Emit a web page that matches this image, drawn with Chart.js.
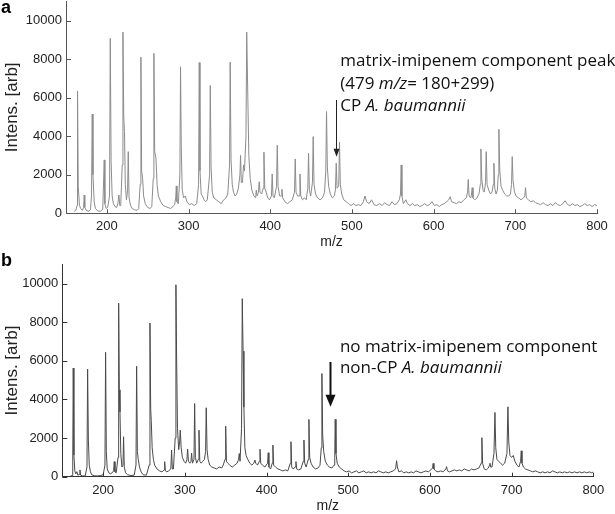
<!DOCTYPE html>
<html><head><meta charset="utf-8">
<script src="https://cdn.jsdelivr.net/npm/chart.js@4"></script>
<style>
html,body{margin:0;padding:0;background:#fff;}
#wrap{position:relative;width:615px;height:514px;overflow:hidden;background:#fff;}
canvas{position:absolute;left:0;}
</style></head><body>
<div id="wrap">
<canvas id="ca" width="615" height="267" style="top:-11px"></canvas>
<canvas id="cb" width="615" height="266" style="top:250px"></canvas>
</div>
<script>
// ---- data ----
const xTickLabels = [200, 300, 400, 500, 600, 700, 800];
const yTickLabels = [0, 2000, 4000, 6000, 8000, 10000];

// panel a: CP A. baumannii (m/z, intensity)
const mzA = [160,162,163.5,164.1,165,166.5,168,170,171.5,172.3,173,175,178,180,181.2,182.1,183,184.5,186,189,192,195,196.8,197.6,199,201,203.3,204.2,205.2,206.5,208,210,212,213.5,214.8,215.8,217,218.8,219.7,220.7,221.6,222.6,224,225.4,226.2,227.2,229,231,234,237,239,240.8,241.7,242.6,243.8,245,247,250,253,255,256.8,257.6,258.6,260.1,261.5,263,266,269,272,275,278,281,283,284.3,285,285.8,287.5,289.4,290.2,291.1,292.3,294,296,298,301,304,307,310,312.3,313.1,314,315.5,317,319,321,323,325.8,326.6,327.6,329,331,334,337,340,343,346,348,350.2,351,352,353.5,355,357,359,361,362.9,363.7,364.6,366,367.3,368.5,370.3,371.2,372.4,373.8,375.5,377.5,380,382.2,382.9,384,385.6,386.5,387.5,389.5,391.4,392.3,393.3,395,397,399,401.5,402.4,403.4,405,407.7,408.6,409.6,411.5,413.5,414.3,415.3,418,421,424,427,429.7,430.6,431.6,433.5,435.5,436.4,437.4,439.5,442,444,446,446.9,447.9,449.5,451.7,452.6,453.6,455.5,458,461,464,466.5,468,468.9,469.9,471.5,473.5,476,478.5,479.8,480.8,481.8,483.8,484.8,485.8,487.5,490,493,496,499,502,505,508,511,514,516,518,521,524,527,530,534,537,540,543,546,549,552,555,558,559.5,560.3,561.2,563,566,568,571,574,577,580,583,586,589,592,595,598,601,604,607,610,613,616,618.5,620.3,622,625,628,631,634,637,640,641.6,642.4,643.4,645.5,646.4,647.2,648.2,650.5,653,655.5,657.2,657.9,658.9,660.5,662,663.6,664.4,665.4,667.5,669.5,671.5,673,673.8,674.8,676.5,678,679.2,679.9,680.9,682.5,684.5,687,689.5,692,694,695.4,696.2,697.2,699,701,704,707,710,711.7,712.5,713.5,716,719,722,725,728,731,734,737,740,743,746,749,752,755,758,761,764,767,770,773,776,779,782,785,788,791,794,797,800];
const intA = [100,150,400,6350,1400,400,250,150,300,950,300,150,100,200,900,5150,2000,600,250,120,100,200,2770,500,250,300,900,9080,2700,900,500,350,300,500,950,400,400,2500,9400,5000,4240,1500,700,1200,3200,800,400,250,180,150,250,1500,8100,2200,1800,900,500,300,250,350,1800,8300,3200,2870,1500,900,600,400,350,300,250,350,450,800,1420,600,500,2000,7600,3390,1200,800,900,600,450,500,400,500,1500,7820,2200,1000,900,700,600,700,2000,6630,2400,1100,800,700,600,500,700,800,1000,2500,7840,2800,1500,1100,900,1000,1300,2000,3000,1600,1600,2510,2200,4000,9400,6500,3000,1800,1200,900,800,1210,900,1100,1640,1100,1000,1300,3170,1300,1100,800,700,900,2040,900,800,1400,3530,1400,900,900,1250,800,600,500,600,700,1100,2820,1100,900,900,2040,900,700,800,700,1300,3110,1200,900,1600,3980,1500,1000,800,700,800,1100,2200,5280,2400,1400,1000,800,900,1200,2600,1300,1400,3690,1500,1000,700,600,500,400,500,400,450,400,600,900,600,500,700,450,400,500,400,550,450,400,600,450,500,700,1000,2510,900,500,700,500,400,500,400,450,350,400,500,400,450,600,400,450,350,450,500,600,700,860,600,550,500,600,550,700,800,1100,1760,900,800,1000,1330,800,700,800,1000,1500,3340,1800,1200,1100,1600,3200,1500,1200,1000,1100,1500,2600,1300,1000,1200,2000,4360,2300,1400,1200,1000,900,900,1000,1500,2940,1700,1100,900,800,700,800,900,1330,800,700,600,650,550,500,450,550,450,400,500,400,550,450,400,500,650,450,400,500,400,450,350,400,500,400,450,350,450,400];

// panel b: non-CP A. baumannii (m/z, intensity)
const mzB = [160,162,162.8,163.4,164.2,165.3,166.5,167.9,169,171,171.6,172.4,175,178,180.2,181,181.9,183,184.5,186,189,193,197,200,202.2,203,203.9,205,207,209,211,212.8,213.6,214.5,216,218.2,219,219.8,220.6,221.6,223,224.3,225,225.9,227.5,230,234,238,240.2,241,241.9,243,244.5,246.5,249,253,256.3,257.3,258.2,258.9,260,261.5,263,266,269,272,274.5,275.3,276.2,278,280,282.8,283.8,284.7,286,288.2,289.1,289.9,291,292.5,293.6,294.4,295.5,297,299,301,302.6,303.4,304.4,306,307.5,308.3,309.3,311.2,312,312.9,314.5,316.5,317.3,318.3,320,322,324,325.4,326.2,327.2,328.5,330.5,333,336,339,342,345,347,349.2,350,350.9,352.5,355,358,361,364,365.8,366.6,367.6,369.4,370.3,371.3,372.3,373.5,375,377,379.5,382,384.5,385.8,386.8,389,391.2,392,392.9,395,398,401.3,402.1,402.9,405,407,407.8,408.7,411,414,417,420,423,426,429.1,429.9,430.8,432.5,435.2,436,436.9,439,442,445,445.8,446.7,448.5,451.1,451.9,452.8,454.5,457,460,463,465.5,467,467.8,468.7,470,472,474.5,477,480,482.6,483.5,484.1,485,486.5,489,492,495,498,501,504,507,510,513,516,519,522,525,528,531,534,537,540,543,546,549,552,555,558,559.2,560.2,562,565,568,571,574,577,580,583,586,589,592,595,598,601,603.2,604,604.9,607,610,613,616,619.5,620.4,621.5,624,627,630,633,636,639,642,645,648,651,654,657,660,662.8,663.6,664.5,666.5,669,671.5,673,673.5,674.4,676,678.4,679.6,680.6,682,684,686.5,689,691.5,694.3,695.5,696.5,698,700,702,704,706.5,709,711,711.8,712.7,714.5,717,720,723,726,729,732,735,738,741,744,747,750,753,756,759,762,765,768,771,774,777,780,783,786,789,792,795,798,800];
const intB = [30,60,800,5630,1120,300,150,260,80,120,350,80,40,40,500,5570,1900,600,250,100,50,40,60,100,600,6440,1300,400,200,150,200,300,780,250,200,1000,8990,4500,3360,1200,500,600,2070,500,200,100,60,80,600,5720,1300,900,500,250,100,80,600,7960,3500,2900,1500,900,600,400,300,250,350,780,300,250,300,400,1380,400,400,2000,9940,6300,2500,1400,1800,2410,1500,1000,800,700,900,1430,800,700,800,1220,700,900,3790,1000,700,900,2410,800,700,800,900,1300,3570,1400,900,600,500,450,400,500,450,600,900,2620,800,700,600,500,600,700,900,1200,800,2500,9220,6500,3600,1500,1100,900,700,600,700,860,700,600,800,1420,700,600,500,700,1240,500,400,700,1640,600,500,400,350,300,350,300,700,1810,500,400,500,780,400,350,400,800,1900,700,500,900,2970,1000,700,500,400,450,600,1500,5340,2200,1300,800,600,500,450,600,1000,2970,1200,700,500,400,300,250,300,200,250,300,200,250,300,200,250,200,250,200,300,250,200,250,200,250,300,400,830,500,250,300,200,250,200,250,200,300,250,200,250,300,250,350,450,690,400,300,250,300,250,400,520,300,250,300,350,300,350,300,400,350,300,400,350,400,450,700,2020,700,400,350,450,600,700,500,500,1200,3330,1500,900,800,700,600,700,1200,3620,1800,1100,1000,1100,800,600,500,800,1340,700,500,400,350,300,250,300,250,200,250,200,250,200,300,250,200,250,200,250,200,250,200,250,200,250,200,250,200,250,200,250,200,200];

// ---- drawing ----
Chart.defaults.font.family = "'Liberation Sans', Arial, sans-serif";
Chart.defaults.color = '#222';

const tickMarks = {
  id: 'tickMarks',
  afterDraw(chart, args, o) {
    const {ctx, chartArea: a, scales: {x, y}} = chart;
    ctx.save();
    ctx.strokeStyle = o.color; ctx.lineWidth = 1;
    x.ticks.forEach(t => {
      const p = Math.round(x.getPixelForValue(t.value)) + 0.5;
      const L = xTickLabels.includes(t.value) ? 4 : 2;
      ctx.beginPath(); ctx.moveTo(p, a.bottom); ctx.lineTo(p, a.bottom - L); ctx.stroke();
    });
    y.ticks.forEach(t => {
      const p = Math.round(y.getPixelForValue(t.value)) + 0.5;
      const L = yTickLabels.includes(t.value) ? 5 : 3;
      ctx.beginPath(); ctx.moveTo(a.left, p); ctx.lineTo(a.left + L, p); ctx.stroke();
    });
    ctx.restore();
  }
};

const notes = {
  id: 'notes',
  afterDraw(chart, args, o) {
    const {ctx, scales: {x, y}} = chart;
    ctx.save();
    // panel letter
    ctx.fillStyle = '#000';
    ctx.font = "bold 18px 'Liberation Sans', Arial, sans-serif";
    ctx.textBaseline = 'middle'; ctx.textAlign = 'left';
    ctx.fillText(o.letter, o.letterX, o.letterY);
    // annotation text
    ctx.fillStyle = '#111';
    const x0 = x.getPixelForValue(o.textAt[0]);
    let yy = y.getPixelForValue(o.textAt[1]);
    o.lines.forEach(line => {
      let xx = x0;
      line.forEach(([txt, it]) => {
        ctx.font = (it ? 'italic ' : '') + o.fontSize + "px 'Open Sans', sans-serif";
        ctx.fillText(txt, xx, yy);
        xx += ctx.measureText(txt).width;
      });
      yy += o.lineGap;
    });
    // arrow
    const ax = Math.round(x.getPixelForValue(o.arrow.x)) + 0.5;
    const y1 = y.getPixelForValue(o.arrow.from), y2 = y.getPixelForValue(o.arrow.to);
    ctx.strokeStyle = o.arrow.color; ctx.fillStyle = o.arrow.color; ctx.lineWidth = o.arrow.width;
    ctx.beginPath(); ctx.moveTo(ax, y1); ctx.lineTo(ax, y2 - o.arrow.head + 1); ctx.stroke();
    ctx.beginPath(); ctx.moveTo(ax, y2); ctx.lineTo(ax - o.arrow.half, y2 - o.arrow.head); ctx.lineTo(ax + o.arrow.half, y2 - o.arrow.head); ctx.closePath(); ctx.fill();
    ctx.restore();
  }
};

function makeChart(id, mz, inten, s) {
  return new Chart(document.getElementById(id), {
    type: 'line',
    data: { datasets: [{ data: mz.map((v, i) => ({x: v, y: inten[i]})), borderColor: s.color, borderWidth: 1, pointRadius: 0, tension: 0, fill: false }] },
    options: {
      responsive: false, animation: false, events: [],
      layout: { padding: { top: s.padTop, right: s.padRight, left: 0, bottom: 0 } },
      plugins: { legend: { display: false }, tooltip: { enabled: false }, tickMarks: { color: s.axis }, notes: s.notes },
      scales: {
        x: {
          type: 'linear', min: 150, max: 800,
          ticks: { stepSize: 50, autoSkip: false, maxRotation: 0, padding: 5.5, color: '#222', font: { size: 13 },
                   callback: v => xTickLabels.includes(v) ? String(v) : null },
          grid: { display: false, drawTicks: false, tickLength: 0 },
          border: { display: true, color: s.axis, width: 1 },
          title: { display: true, text: 'm/z', color: '#222', font: { size: 14 }, padding: { top: 0, bottom: s.titlePad } },
          afterFit: sc => { sc.height = s.xH; }
        },
        y: {
          min: 0, max: 11000,
          ticks: { stepSize: 1000, autoSkip: false, padding: 4, color: '#222', font: { size: 13 },
                   callback: v => yTickLabels.includes(v) ? String(v) : null },
          grid: { display: false, drawTicks: false, tickLength: 0 },
          border: { display: true, color: s.axis, width: 1 },
          title: { display: true, text: 'Intens. [arb]', color: '#222', font: { size: 17 }, padding: { top: 2.3, bottom: 0 } },
          afterFit: sc => { sc.width = s.yW; }
        }
      }
    },
    plugins: [tickMarks, notes]
  });
}

makeChart('ca', mzA, intA, {
  color: '#8c8c8c', axis: '#555', padTop: 12.3, padRight: 18, xH: 42.7, yW: 66, titlePad: 5.5,
  notes: {
    letter: 'a', letterX: 1, letterY: 19, fontSize: 17, lineGap: 22.5,
    textAt: [485.7, 7870],
    lines: [[['matrix-imipenem component peak', 0]], [['(479 ', 0], ['m/z', 1], ['= 180+299)', 0]], [['CP ', 0], ['A. baumannii', 1]]],
    arrow: { x: 480, from: 5880, to: 2940, head: 8, half: 3, width: 1, color: '#222' }
  }
});
makeChart('cb', mzB, intB, {
  color: '#4a4a4a', axis: '#333', padTop: 14.3, padRight: 21.7, xH: 39.3, yW: 62.3, titlePad: 1,
  notes: {
    letter: 'b', letterX: 1, letterY: 11, fontSize: 17, lineGap: 21.6,
    textAt: [489.8, 6718],
    lines: [[['no matrix-imipenem component', 0]], [['non-CP ', 0], ['A. baumannii', 1]]],
    arrow: { x: 477.6, from: 5940, to: 3620, head: 12, half: 5, width: 2, color: '#111' }
  }
});
</script>
</body></html>
